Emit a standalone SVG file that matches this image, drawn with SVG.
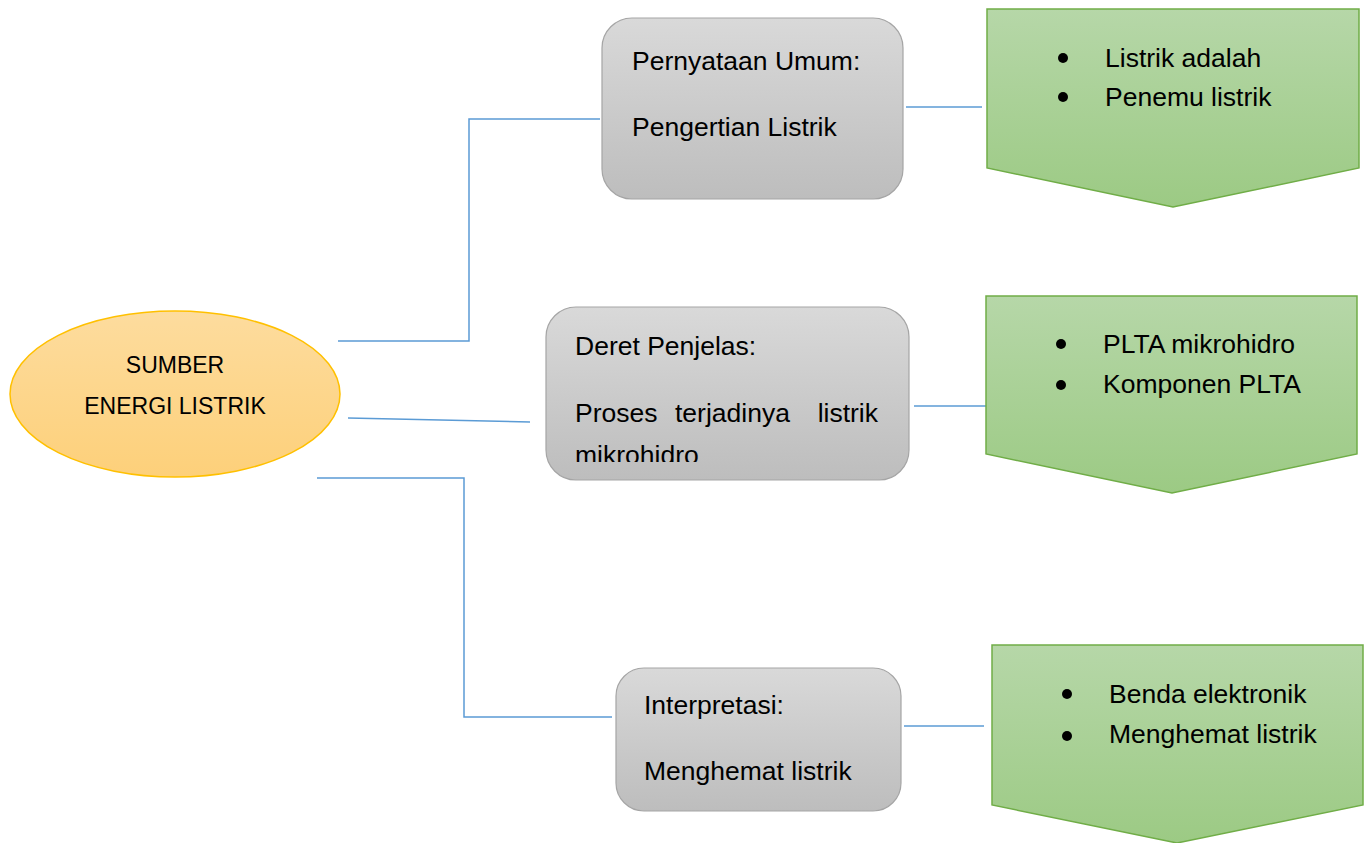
<svg xmlns="http://www.w3.org/2000/svg" width="1371" height="843" viewBox="0 0 1371 843">
<style>
.conn{fill:none;stroke:#5b9bd5;stroke-width:1.5}
.box{fill:url(#gGray);stroke:#a5a5a5;stroke-width:1.2}
.pent{fill:url(#gGreen);stroke:#70ad47;stroke-width:1.5}
.t{font-family:"Liberation Sans",Arial,sans-serif;font-size:26.5px;fill:#000}
.te{font-family:"Liberation Sans",Arial,sans-serif;font-size:23px;fill:#000;text-anchor:middle}
.dot{fill:#000}
</style>
<defs>
<linearGradient id="gGray" x1="0" y1="0" x2="0" y2="1"><stop offset="0" stop-color="#d9d9d9"/><stop offset="1" stop-color="#bdbdbd"/></linearGradient>
<linearGradient id="gGreen" x1="0" y1="0" x2="0" y2="1"><stop offset="0" stop-color="#b6d7a8"/><stop offset="1" stop-color="#9cca84"/></linearGradient>
<linearGradient id="gOrange" x1="0" y1="0" x2="0" y2="1"><stop offset="0" stop-color="#fddc9e"/><stop offset="1" stop-color="#fdd07a"/></linearGradient>
<clipPath id="clip2"><rect x="546" y="307" width="363" height="155"/></clipPath>
</defs>
<rect width="1371" height="843" fill="#fff"/>
<g id="connectors">
<polyline class="conn" points="338,341 469,341 469,119 600,119"/>
<line class="conn" x1="348" y1="418" x2="530" y2="422"/>
<polyline class="conn" points="317,478 464,478 464,717 612,717"/>
<line class="conn" x1="906" y1="107" x2="982" y2="107"/>
<line class="conn" x1="914" y1="406" x2="986" y2="406"/>
<line class="conn" x1="904" y1="726" x2="984" y2="726"/>
</g>
<g id="root">
<ellipse cx="175" cy="394" rx="165" ry="83" fill="url(#gOrange)" stroke="#ffc000" stroke-width="1.5"/>
<text class="te" x="175" y="373">SUMBER</text>
<text class="te" x="175" y="414">ENERGI LISTRIK</text>
</g>
<g id="box1">
<rect class="box" x="602" y="18" width="301" height="181" rx="30"/>
<text class="t" x="632" y="70">Pernyataan Umum:</text>
<text class="t" x="632" y="136">Pengertian Listrik</text>
</g>
<g id="box2">
<rect class="box" x="546" y="307" width="363" height="173" rx="30"/>
<text class="t" x="575" y="355">Deret Penjelas:</text>
<text class="t" x="575" y="422">Proses</text>
<text class="t" x="675" y="422">terjadinya</text>
<text class="t" x="878" y="422" text-anchor="end">listrik</text>
<text class="t" x="575" y="464" clip-path="url(#clip2)">mikrohidro</text>
</g>
<g id="box3">
<rect class="box" x="616" y="668" width="285" height="143" rx="28"/>
<text class="t" x="644" y="714">Interpretasi:</text>
<text class="t" x="644" y="780">Menghemat listrik</text>
</g>
<g id="pent1">
<polygon class="pent" points="987,9 1359,9 1359,168 1173,207 987,168"/>
<circle class="dot" cx="1063" cy="58" r="5"/>
<circle class="dot" cx="1063" cy="97" r="5"/>
<text class="t" x="1105" y="67">Listrik adalah</text>
<text class="t" x="1105" y="106">Penemu listrik</text>
</g>
<g id="pent2">
<polygon class="pent" points="986,296 1357,296 1357,454 1172,493 986,454"/>
<circle class="dot" cx="1061" cy="344" r="5"/>
<circle class="dot" cx="1061" cy="385" r="5"/>
<text class="t" x="1103" y="353">PLTA mikrohidro</text>
<text class="t" x="1103" y="393">Komponen PLTA</text>
</g>
<g id="pent3">
<polygon class="pent" points="992,645 1363,645 1363,805 1177,843 992,805"/>
<circle class="dot" cx="1067" cy="694" r="5"/>
<circle class="dot" cx="1067" cy="736" r="5"/>
<text class="t" x="1109" y="703">Benda elektronik</text>
<text class="t" x="1109" y="743">Menghemat listrik</text>
</g>
</svg>
